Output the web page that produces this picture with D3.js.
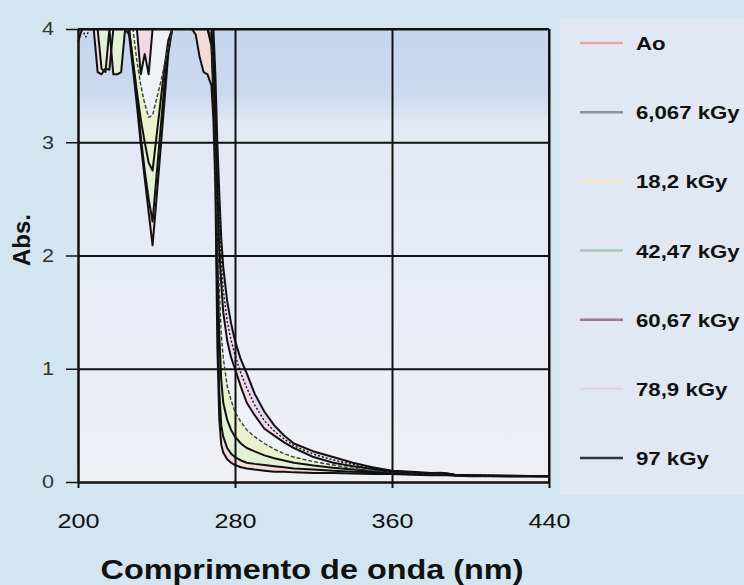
<!DOCTYPE html>
<html>
<head>
<meta charset="utf-8">
<script src="https://cdn.jsdelivr.net/npm/d3@7"></script>
<style>
    body { margin: 0; background: #d2e5f0; }
    svg { display: block; }
</style>
</head>
<body>
<svg id="svgSpectrum" width="744" height="585"></svg>
<script>

// Wavelengths (nm) shared by every spectrum
var wavelengths = [200, 202, 204, 206, 208, 210, 212, 214, 216, 218, 220, 222, 224, 226, 228,
    230, 232, 234, 236, 238, 240, 242, 244, 246, 248, 250, 254, 258, 260, 262, 264, 266, 268,
    269, 270, 271, 272, 273, 274, 276, 278, 280, 283, 286, 290, 295, 300, 305, 310, 320, 330,
    340, 350, 360, 370, 380, 385, 388, 392, 400, 420, 440];

// Absorbance, one array per dose
var absAo = [4, 4, 4, 4, 4, 3.62, 3.6, 3.65, 3.64, 4, 4, 4, 4, 3.95, 3.65,
    3.33, 2.98, 2.68, 2.38, 2.09, 2.5, 2.92, 3.35, 3.78, 4, 4, 4, 4, 3.95, 3.75, 3.62, 3.6, 3.5,
    3.2, 2.6, 1.2, 0.55, 0.33, 0.26, 0.2, 0.17, 0.15, 0.13, 0.12, 0.11, 0.1, 0.09, 0.09, 0.085, 0.08, 0.08,
    0.075, 0.07, 0.07, 0.065, 0.06, 0.06, 0.06, 0.055, 0.05, 0.05, 0.05];
var abs6 = [4, 4, 4, 4, 4, 4, 3.65, 3.62, 4, 3.6, 3.6, 3.62, 4, 4, 3.7,
    3.4, 3.05, 2.75, 2.5, 2.3, 2.7, 3.1, 3.5, 3.85, 4, 4, 4, 4, 4, 4, 4, 4, 3.85,
    3.4, 2.8, 1.6, 0.8, 0.5, 0.4, 0.3, 0.25, 0.22, 0.19, 0.17, 0.16, 0.15, 0.14, 0.13, 0.12, 0.11, 0.1,
    0.09, 0.085, 0.08, 0.075, 0.07, 0.07, 0.065, 0.06, 0.055, 0.05, 0.05];
var abs18 = [4, 4, 4, 4, 4, 4, 4, 4, 4, 4, 4, 4, 4, 4, 3.72,
    3.45, 3.2, 3.0, 2.82, 2.75, 3.05, 3.35, 3.65, 3.9, 4, 4, 4, 4, 4, 4, 4, 4, 3.9,
    3.5, 2.9, 2.0, 1.3, 0.9, 0.7, 0.55, 0.46, 0.4, 0.34, 0.3, 0.27, 0.235, 0.21, 0.19, 0.17, 0.145, 0.125,
    0.11, 0.095, 0.085, 0.08, 0.07, 0.075, 0.07, 0.06, 0.055, 0.05, 0.05];
var abs42 = [4, 4, 4, 4, 4, 4, 4, 4, 4, 4, 4, 4, 4, 4, 4,
    3.72, 3.5, 3.34, 3.22, 3.24, 3.38, 3.52, 3.68, 3.84, 4, 4, 4, 4, 4, 4, 4, 4, 3.95,
    3.6, 3.0, 2.3, 1.7, 1.3, 1.1, 0.85, 0.72, 0.62, 0.53, 0.46, 0.4, 0.34, 0.29, 0.25, 0.22, 0.18, 0.15,
    0.12, 0.1, 0.09, 0.08, 0.07, 0.075, 0.07, 0.06, 0.055, 0.05, 0.05];
var abs60 = [4, 4, 4, 4, 4, 4, 4, 4, 4, 4, 4, 4, 4, 4, 4,
    4, 3.6, 3.78, 3.6, 4, 4, 4, 4, 4, 4, 4, 4, 4, 4, 4, 4, 4, 4,
    3.8, 3.2, 2.6, 2.05, 1.75, 1.5, 1.25, 1.1, 1.0, 0.84, 0.7, 0.59, 0.47, 0.41, 0.35, 0.3, 0.22, 0.17,
    0.14, 0.115, 0.095, 0.085, 0.075, 0.08, 0.075, 0.065, 0.06, 0.055, 0.05];
var abs78 = [4, 4, 3.93, 4, 4, 4, 4, 4, 4, 4, 4, 4, 4, 4, 4,
    4, 4, 4, 4, 4, 4, 4, 4, 4, 4, 4, 4, 4, 4, 4, 4, 4, 4,
    3.9, 3.4, 2.8, 2.3, 1.95, 1.7, 1.42, 1.25, 1.12, 0.96, 0.83, 0.68, 0.54, 0.45, 0.38, 0.32, 0.245, 0.195,
    0.155, 0.12, 0.1, 0.088, 0.078, 0.08, 0.075, 0.065, 0.06, 0.055, 0.05];
var abs97 = [3.88, 4, 4, 4, 4, 4, 4, 4, 4, 4, 4, 4, 4, 4, 4,
    4, 4, 4, 4, 4, 4, 4, 4, 4, 4, 4, 4, 4, 4, 4, 4, 4, 4,
    4, 3.6, 3.0, 2.55, 2.15, 1.9, 1.6, 1.4, 1.25, 1.08, 0.96, 0.78, 0.62, 0.5, 0.41, 0.34, 0.27, 0.22,
    0.17, 0.13, 0.1, 0.09, 0.08, 0.082, 0.075, 0.065, 0.06, 0.055, 0.05];

var seriesNames = ["Ao", "6,067 kGy", "18,2 kGy", "42,47 kGy", "60,67 kGy", "78,9 kGy", "97 kGy"];
var seriesValues = [absAo, abs6, abs18, abs42, abs60, abs78, abs97];

var xTicks = [200, 280, 360, 440];
var yTicks = [0, 1, 2, 3, 4];

// Legend line colours and the pale colour shown between a curve and the one below it
var lineColors = ["#e6a6a6", "#8a90a8", "#f2e9b4", "#a6cab6", "#9a7890", "#e0d2da", "#2e3648"];
var bandColors = [null, "#f2dcd8", "#e2f0d6", "#eaf1cc", "#eef1f6", "#f1d9e8", "#e4d8f0"];

function drawSpectrum() {
    /*
    Draws the absorbance spectra for every irradiation dose
    */

    var padding = { top: 29, right: 195, bottom: 103, left: 78 };

    var svgWidth = 744;
    var svgHeight = 585;
    var chartWidth = svgWidth - padding.left - padding.right;
    var chartHeight = svgHeight - padding.top - padding.bottom;
    var stretch = 1.2;

    var svg = d3.select("#svgSpectrum");

    // Legend panel and plot background
    svg.append("rect")
        .attr("x", 560).attr("y", 18)
        .attr("width", 184).attr("height", 477)
        .attr("fill", "#e1e8f4");

    var defs = svg.append("defs");
    var gradient = defs.append("linearGradient")
        .attr("id", "plotBackground")
        .attr("x1", "0%").attr("y1", "0%")
        .attr("x2", "0%").attr("y2", "100%");
    gradient.selectAll("stop")
        .data([["0%", "#c6d6ee"], ["14%", "#cad9ef"], ["21%", "#e3e8f5"], ["100%", "#eef0f4"]])
        .enter()
        .append("stop")
        .attr("offset", d => d[0])
        .attr("stop-color", d => d[1]);

    var chart = svg.append("g")
        .attr("transform", `translate(${padding.left}, ${padding.top})`);

    chart.append("rect")
        .attr("width", chartWidth)
        .attr("height", chartHeight)
        .attr("fill", "url(#plotBackground)");

    var xScale = d3.scaleLinear()
        .domain([200, 440])
        .range([0, chartWidth]);

    var yScale = d3.scaleLinear()
        .domain([0, 4])
        .range([chartHeight, 0]);

    // Pale bands between neighbouring doses
    for (var i = 1; i < seriesValues.length; i++) {
        var upper = seriesValues[i];
        var lower = seriesValues[i - 1];
        var area = d3.area()
            .x((d, j) => xScale(wavelengths[j]))
            .y0((d, j) => yScale(lower[j]))
            .y1((d, j) => yScale(upper[j]));
        chart.append("path")
            .datum(wavelengths)
            .attr("d", area)
            .attr("fill", bandColors[i]);
    }

    // Gridlines
    chart.append("g")
        .attr("class", "grid")
        .attr("transform", `translate(0, ${chartHeight})`)
        .call(d3.axisBottom(xScale)
            .tickValues(xTicks)
            .tickSize(-chartHeight)
            .tickSizeOuter(0)
            .tickFormat(""))
        .call(g => g.select(".domain").remove())
        .selectAll("line")
            .attr("stroke", "#111")
            .attr("stroke-width", 2);

    chart.append("g")
        .attr("class", "grid")
        .call(d3.axisLeft(yScale)
            .tickValues(yTicks)
            .tickSize(-chartWidth)
            .tickSizeOuter(0)
            .tickFormat(""))
        .call(g => g.select(".domain").remove())
        .selectAll("line")
            .attr("stroke", "#111")
            .attr("stroke-width", 2);

    // Spectrum lines
    var line = d3.line()
        .x((d, j) => xScale(wavelengths[j]))
        .y(d => yScale(d));

    chart.selectAll(".spectrum")
        .data(seriesValues)
        .enter()
        .append("path")
            .attr("class", "spectrum")
            .attr("d", line)
            .attr("fill", "none")
            .attr("stroke", (d, i) => i == 3 ? "#2f4236" : "#111")
            .attr("stroke-width", (d, i) => i == 3 || i == 5 ? 1.4 : 2)
            .attr("stroke-dasharray", (d, i) => i == 5 ? "2,2" : (i == 3 ? "4,2" : null))
            .attr("stroke-linejoin", "round");

    // x-axis
    var xAxis = chart.append("g")
        .attr("transform", `translate(0, ${chartHeight})`)
        .call(d3.axisBottom(xScale)
            .tickValues(xTicks)
            .tickSize(6)
            .tickSizeOuter(0)
            .tickPadding(25));
    xAxis.select(".domain").attr("stroke", "#111").attr("stroke-width", 2);
    xAxis.selectAll("line").attr("stroke", "#111").attr("stroke-width", 2);
    xAxis.selectAll("text")
        .attr("fill", "#111")
        .style("font", "21px 'Liberation Sans', Arial, sans-serif")
        .attr("transform", `scale(${stretch}, 1)`);

    // y-axis
    var yAxis = chart.append("g")
        .call(d3.axisLeft(yScale)
            .tickValues(yTicks)
            .tickFormat(d3.format("d"))
            .tickSize(12)
            .tickSizeOuter(0)
            .tickPadding(8));
    yAxis.select(".domain").attr("stroke", "#111").attr("stroke-width", 2);
    yAxis.selectAll("line").attr("stroke", "#111").attr("stroke-width", 1.5);
    yAxis.selectAll("text")
        .attr("fill", "#333")
        .style("font", "18px 'Liberation Sans', Arial, sans-serif")
        .attr("transform", `scale(${stretch}, 1)`);

    // Frame on top and right
    chart.append("line")
        .attr("x1", 0).attr("x2", chartWidth)
        .attr("y1", 0).attr("y2", 0)
        .attr("stroke", "#111").attr("stroke-width", 2);
    chart.append("line")
        .attr("x1", chartWidth).attr("x2", chartWidth)
        .attr("y1", 0).attr("y2", chartHeight)
        .attr("stroke", "#111").attr("stroke-width", 2);

    // Axis labels
    svg.append("text")
        .attr("transform", `translate(${padding.left + 234}, 579) scale(${stretch}, 1)`)
        .attr("text-anchor", "middle")
        .style("font", "bold 27px 'Liberation Sans', Arial, sans-serif")
        .attr("fill", "#111")
        .text("Comprimento de onda (nm)");

    svg.append("text")
        .attr("transform", "translate(30, 240) rotate(-90)")
        .attr("text-anchor", "middle")
        .style("font", "bold 24px 'Liberation Sans', Arial, sans-serif")
        .attr("fill", "#111")
        .text("Abs.");

    // Legend
    var legendY = d3.scalePoint()
        .domain(seriesNames)
        .range([43, 458]);

    var legend = svg.append("g").attr("class", "legend");

    legend.selectAll("line")
        .data(seriesNames)
        .enter()
        .append("line")
            .attr("x1", 580).attr("x2", 623)
            .attr("y1", d => legendY(d))
            .attr("y2", d => legendY(d))
            .attr("stroke", (d, i) => lineColors[i])
            .attr("stroke-width", 2.5);

    legend.selectAll("text")
        .data(seriesNames)
        .enter()
        .append("text")
            .attr("transform", d => `translate(636, ${legendY(d) + 7}) scale(1.17, 1)`)
            .style("font", "bold 19px 'Liberation Sans', Arial, sans-serif")
            .attr("fill", "#111")
            .text(d => d);
}

drawSpectrum();
</script>
</body>
</html>
